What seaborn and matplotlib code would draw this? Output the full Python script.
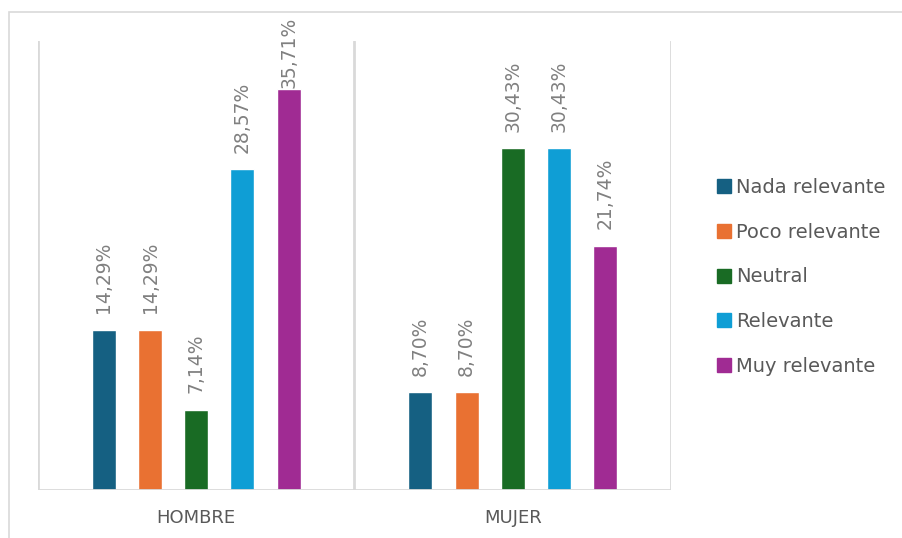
import matplotlib
matplotlib.use("Agg")
import matplotlib.pyplot as plt
from matplotlib.patches import Rectangle
from matplotlib.lines import Line2D
import seaborn as sns
import pandas as pd

# data
generos = ["HOMBRE", "MUJER"]
niveles = ["Nada relevante", "Poco relevante", "Neutral", "Relevante", "Muy relevante"]
hombre = [14.29, 14.29, 7.14, 28.57, 35.71]
mujer = [8.70, 8.70, 30.43, 30.43, 21.74]
colores = ["#156082", "#E97132", "#196B24", "#0F9ED5", "#A02B93"]

df = pd.DataFrame({
    "genero": [g for g in generos for _ in niveles],
    "nivel": niveles * 2,
    "pct": hombre + mujer,
})

sns.set_style("white")
plt.rcParams["font.family"] = ["DejaVu Sans"]

W, H = 903, 538
fig = plt.figure(figsize=(W / 100, H / 100), dpi=100)
ax = fig.add_axes([38 / W, (H - 490) / H, (671 - 38) / W, (490 - 41) / H])

sns.barplot(data=df, x="genero", y="pct", hue="nivel", order=generos,
            hue_order=niveles, palette=colores, width=0.73, gap=0.48,
            saturation=1, ax=ax, legend=False)

ax.set_xlim(-0.5, 1.5)
ax.set_ylim(0, 40)
for s in ax.spines.values():
    s.set_visible(False)
ax.set_yticks([])
ax.set_xlabel("")
ax.set_ylabel("")
ax.tick_params(axis="x", length=0, pad=14, labelsize=13, labelcolor="#595959")

grid = "#d9d9d9"
for xv in [-0.5, 0.5, 1.5]:
    ax.axvline(xv, color=grid, lw=2, zorder=0)
ax.axhline(0, color=grid, lw=2, zorder=3)

# data labels
for cont in ax.containers:
    for bar in cont:
        v = bar.get_height()
        txt = f"{v:.2f}".replace(".", ",") + "%"
        pad = 1 if v > 35 else 12
        ax.annotate(txt, (bar.get_x() + bar.get_width() / 2, v),
                    xytext=(0, pad), textcoords="offset points",
                    rotation=90, ha="center", va="bottom",
                    fontsize=13.5, color="#808080", annotation_clip=False)

handles = [Line2D([], [], marker="s", ls="", markersize=10, color=c) for c in colores]
fig.legend(handles, niveles, loc="center left", bbox_to_anchor=(707 / W, 1 - 277 / H),
           frameon=False, fontsize=14, labelcolor="#595959", handlelength=0.7,
           handletextpad=0.3, labelspacing=1.32, borderpad=0)

# chart area border
fig.patches.append(Rectangle((9 / W, -0.1), 1.2, (H - 12) / H + 0.1,
                             transform=fig.transFigure, fill=False,
                             edgecolor=grid, lw=1.2))

fig.savefig("out.png", dpi=100)
